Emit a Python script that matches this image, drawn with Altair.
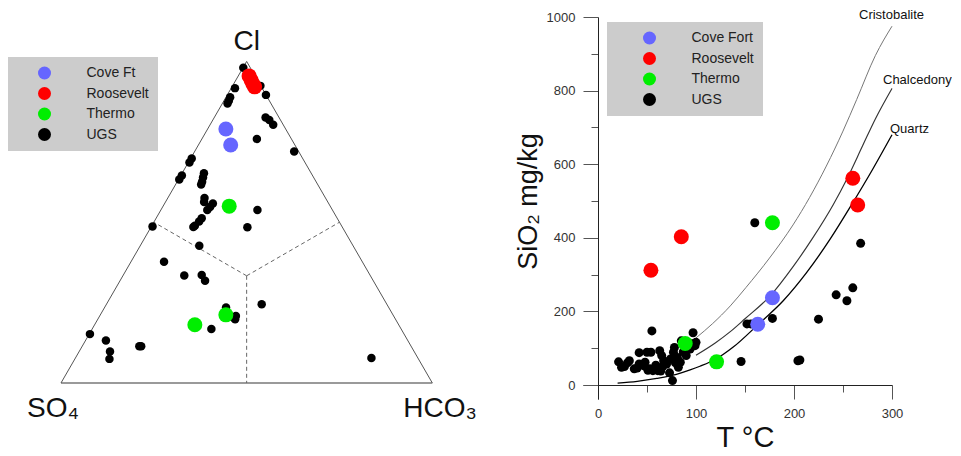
import math
import altair as alt
import pandas as pd

FONT = "Liberation Sans"

# ---------------- left panel: Cl - SO4 - HCO3 ternary (percent) ----------------
ugs_cl = [98.0, 91.7, 88.9, 87.8, 86.9, 92.4, 89.6, 82.6, 81.8, 80.3, 75.9, 72.0,
          69.8, 68.6, 64.5, 63.3, 65.2, 63.9, 62.6, 61.7, 57.5, 56.3, 55.8, 54.7,
          53.8, 51.2, 50.2, 48.9, 48.5, 48.7, 53.8, 48.4, 42.7, 37.7, 33.4, 33.6,
          31.8, 24.5, 23.5, 20.4, 20.8, 19.8, 16.8, 15.2, 13.2, 9.8, 7.5, 11.4, 11.4, 7.8]
ugs_so4 = [1.9, 7.3, 10.0, 10.9, 11.7, 0.1, 0.0, 3.6, 3.0, 2.7, 9.3, 1.2,
           29.9, 31.1, 35.2, 36.5, 28.9, 29.8, 30.7, 31.4, 32.6, 33.3, 31.2, 32.5,
           33.7, 36.5, 37.7, 39.5, 40.1, 51.0, 20.2, 25.6, 41.4, 53.4, 50.1, 45.3,
           45.3, 33.7, 43.8, 43.4, 42.5, 43.2, 51.1, 84.6, 81.3, 81.9, 83.2, 73.2, 72.7, 12.5]
ugs_hco3 = [0.1, 1.0, 1.1, 1.3, 1.4, 7.5, 10.4, 13.8, 15.2, 17.0, 14.8, 26.8,
            0.3, 0.3, 0.3, 0.2, 5.9, 6.3, 6.7, 6.9, 9.9, 10.4, 13.0, 12.8,
            12.5, 12.3, 12.1, 11.6, 11.4, 0.3, 26.0, 26.0, 15.9, 8.9, 16.5, 21.1,
            22.9, 41.8, 32.7, 36.2, 36.7, 37.0, 32.1, 0.2, 5.5, 8.3, 9.3, 15.4, 15.9, 79.7]

cove_cl = [79.0, 74.0]
cove_so4 = [16.1, 17.3]
cove_hco3 = [4.9, 8.7]

roos_cl = [95.5, 94.2, 93.0, 92.1]
roos_so4 = [1.6, 1.7, 1.8, 1.8]
roos_hco3 = [2.9, 4.1, 5.2, 6.1]

thermo_cl = [55.0, 21.2, 18.1]
thermo_so4 = [27.2, 45.0, 54.9]
thermo_hco3 = [17.8, 33.8, 27.0]

tern_labels = ["Cove Ft", "Roosevelt", "Thermo", "UGS"]
vertex_names = ["Cl", "SO₄", "HCO₃"]

# ---------------- right panel: SiO2 vs T ----------------
ugs_T = [21, 24, 27, 30, 32, 37, 40, 42, 42, 47, 48, 50, 51, 53, 54, 55, 56, 59, 61, 63,
         64, 65, 66, 67, 70, 73, 74, 76, 77, 78, 79, 81, 82, 84, 85, 87, 90, 92, 94, 96,
         97, 99, 100, 146, 152, 156, 160, 178, 204, 206, 225, 243, 254, 260, 268]
ugs_S = [63, 48, 50, 60, 66, 44, 46, 88, 57, 52, 62, 89, 40, 44, 89, 147, 39, 54, 39, 93,
         38, 80, 50, 66, 57, 33, 71, 12, 89, 102, 60, 75, 48, 62, 120, 90, 80, 97, 98, 112,
         142, 107, 116, 64, 166, 166, 441, 181, 66, 68, 179, 245, 229, 264, 385]

cove_T = [178, 163]
cove_S = [237, 165]
roos_T = [54, 85, 260, 265]
roos_S = [312, 403, 562, 489]
thermo_T = [178, 89, 121]
thermo_S = [441, 113, 63]

sio2_labels = ["Cove Fort", "Roosevelt", "Thermo", "UGS"]
series_colors = ["#6666ff", "#ff0000", "#00ee00", "#000000"]

curve_names = ["Cristobalite", "Chalcedony", "Quartz"]
cristobalite_T = [100, 117, 135, 151, 175, 199, 216, 233, 250, 264, 283, 300]
cristobalite_S = [128, 167, 215, 265, 345, 435, 510, 595, 690, 776, 895, 975]
chalcedony_T = [100, 120, 135, 150, 176, 200, 218, 240, 254, 270, 283, 300]
chalcedony_S = [81, 115, 145, 180, 243, 325, 395, 490, 560, 650, 723, 806]
quartz_T = [20, 40, 60, 80, 94, 104, 120, 138, 164, 189, 213, 237, 259, 280, 300]
quartz_S = [5, 10, 18, 29, 41, 51, 70, 103, 166, 229, 306, 397, 491, 585, 680]

# ---------------- build tables ----------------
H = math.sqrt(3) / 2


def tern_point(cl, so4, hco3):
    tot = cl + so4 + hco3
    cl, hco3 = cl * 100 / tot, hco3 * 100 / tot
    return hco3 + cl / 2, cl * H


rows = []
for name, a, b, c in [("UGS", ugs_cl, ugs_so4, ugs_hco3),
                      ("Cove Ft", cove_cl, cove_so4, cove_hco3),
                      ("Roosevelt", roos_cl, roos_so4, roos_hco3),
                      ("Thermo", thermo_cl, thermo_so4, thermo_hco3)]:
    for cl, so4, hco3 in zip(a, b, c):
        x, y = tern_point(cl, so4, hco3)
        rows.append({"series": name, "x": x, "y": y})
tern_df = pd.DataFrame(rows)

V_CL = tern_point(100, 0, 0)
V_SO4 = tern_point(0, 100, 0)
V_HCO3 = tern_point(0, 0, 100)
CEN = tern_point(1, 1, 1)

sides_df = pd.DataFrame([
    {"x": V_SO4[0], "y": V_SO4[1], "x2": V_CL[0], "y2": V_CL[1]},
    {"x": V_CL[0], "y": V_CL[1], "x2": V_HCO3[0], "y2": V_HCO3[1]},
])
base_df = pd.DataFrame([{"x": V_SO4[0], "y": V_SO4[1], "x2": V_HCO3[0], "y2": V_HCO3[1]}])
dash_rows = []
for mid in [(50, 50, 0), (50, 0, 50), (0, 50, 50)]:
    m = tern_point(*mid)
    dash_rows.append({"x": CEN[0], "y": CEN[1], "x2": m[0], "y2": m[1]})
dash_df = pd.DataFrame(dash_rows)

pts_rows = []
for name, T, S in [("UGS", ugs_T, ugs_S), ("Cove Fort", cove_T, cove_S),
                   ("Roosevelt", roos_T, roos_S), ("Thermo", thermo_T, thermo_S)]:
    for t, s in zip(T, S):
        pts_rows.append({"series": name, "T": t, "S": s})
pts_df = pd.DataFrame(pts_rows)

curve_rows = []
curve_ends = []
for name, T, S in [("Cristobalite", cristobalite_T, cristobalite_S),
                   ("Chalcedony", chalcedony_T, chalcedony_S),
                   ("Quartz", quartz_T, quartz_S)]:
    for t, s in zip(T, S):
        curve_rows.append({"curve": name, "T": t, "S": s})
    curve_ends.append({"curve": name, "T": T[-1], "S": S[-1]})
curve_df = pd.DataFrame(curve_rows)
ends_df = pd.DataFrame(curve_ends)

# ---------------- left chart ----------------
LX = alt.Scale(domain=[-14.27, 109.61], nice=False, zero=False)
LY = alt.Scale(domain=[-4.31, 98.57], nice=False, zero=False)


def lenc():
    return dict(x=alt.X("x:Q", scale=LX, axis=None), y=alt.Y("y:Q", scale=LY, axis=None))


sides = alt.Chart(sides_df).mark_rule(color="#555555", strokeWidth=1).encode(
    **lenc(), x2="x2:Q", y2="y2:Q")
base = alt.Chart(base_df).mark_rule(color="#9a9a9a", strokeWidth=2).encode(
    **lenc(), x2="x2:Q", y2="y2:Q")
dashes = alt.Chart(dash_df).mark_rule(color="#666666", strokeWidth=1, strokeDash=[4, 3]).encode(
    **lenc(), x2="x2:Q", y2="y2:Q")

left_legend = alt.Legend(orient="none", legendX=0, legendY=40, title=None,
                         fillColor="#cccccc", padding=9, symbolSize=169,
                         symbolType="circle", symbolStrokeWidth=0, symbolOffset=20.5,
                         labelOffset=35, labelFontSize=14, labelFont=FONT,
                         labelColor="#222222", rowPadding=6.5)

tern_pts = alt.Chart(tern_df).mark_circle(opacity=1).encode(
    **lenc(),
    color=alt.Color("series:N", sort=tern_labels,
                    scale=alt.Scale(domain=tern_labels, range=series_colors),
                    legend=left_legend),
    size=alt.condition(alt.datum.series == "UGS", alt.value(72), alt.value(225)),
)

vlabels = []
for name, v, align, dx, dy in [(vertex_names[0], V_CL, "center", 0, -11),
                               (vertex_names[1], V_SO4, "left", -34, 34),
                               (vertex_names[2], V_HCO3, "left", -29, 34)]:
    df = pd.DataFrame([{"label": name, "x": v[0], "y": v[1]}])
    vlabels.append(alt.Chart(df).mark_text(font=FONT, fontSize=28, color="#111111",
                                           align=align, baseline="alphabetic",
                                           dx=dx, dy=dy).encode(**lenc(), text="label:N"))

left = alt.layer(base, sides, dashes, tern_pts, *vlabels).properties(width=460, height=382)

# ---------------- right chart ----------------
RX = alt.Scale(domain=[-15.3, 300], nice=False, zero=False)
RY = alt.Scale(domain=[-38, 1000], nice=False, zero=False)

x_axis = alt.Axis(values=[0, 50, 100, 150, 200, 250, 300], format="d", labelFlush=False,
                  labelExpr="datum.value % 100 == 0 ? datum.label : ''",
                  tickSize={"condition": {"test": "datum.value % 100 == 0", "value": 14}, "value": 7},
                  offset=-14, grid=False, domainColor="#222222", tickColor="#555555",
                  labelColor="#333333", labelFontSize=13, labelFont=FONT, labelPadding=8,
                  title="T °C", titleFont=FONT, titleFontSize=29, titleFontWeight="normal",
                  titleColor="#111111", titleX=162, titleY=52, titleBaseline="middle",
                  titleAlign="center")
y_axis = alt.Axis(values=list(range(0, 1001, 100)), format="d", labelFlush=False,
                  labelExpr="datum.value % 200 == 0 ? datum.label : ''",
                  tickSize={"condition": {"test": "datum.value % 200 == 0", "value": 15}, "value": 7},
                  offset=-15, grid=False, domainColor="#222222", tickColor="#555555",
                  labelColor="#333333", labelFontSize=13, labelFont=FONT, labelPadding=8,
                  title="SiO₂ mg/kg", titleFont=FONT, titleFontSize=27, titleFontWeight="normal",
                  titleColor="#111111", titleX=-70, titleY=184, titleAngle=-90,
                  titleBaseline="middle", titleAlign="center")


def renc():
    return dict(x=alt.X("T:Q", scale=RX, axis=x_axis), y=alt.Y("S:Q", scale=RY, axis=y_axis))


curves = alt.Chart(curve_df).mark_line(interpolate="monotone").encode(
    **renc(),
    stroke=alt.Stroke("curve:N", scale=alt.Scale(domain=curve_names,
                                                 range=["#777777", "#333333", "#000000"]),
                      legend=None),
    strokeWidth=alt.StrokeWidth("curve:N", scale=alt.Scale(domain=curve_names, range=[1, 1.3, 1.6]),
                                legend=None),
    detail="curve:N",
)

curve_texts = []
for name, dx, dy in [("Cristobalite", -33, -11), ("Chalcedony", -9, -8), ("Quartz", -2, -6)]:
    curve_texts.append(
        alt.Chart(ends_df).transform_filter(alt.datum.curve == name)
        .mark_text(font=FONT, fontSize=13, color="#111111", align="left",
                   baseline="middle", dx=dx, dy=dy)
        .encode(**renc(), text="curve:N"))

right_legend = alt.Legend(orient="none", legendX=24, legendY=5, title=None,
                          fillColor="#cccccc", padding=9, symbolSize=169,
                          symbolType="circle", symbolStrokeWidth=0, symbolOffset=26.5,
                          labelOffset=35, labelFontSize=14, labelFont=FONT,
                          labelColor="#222222", rowPadding=6.5)

sio2_pts = alt.Chart(pts_df).mark_circle(opacity=1).encode(
    **renc(),
    color=alt.Color("series:N", sort=sio2_labels,
                    scale=alt.Scale(domain=sio2_labels, range=series_colors),
                    legend=right_legend),
    size=alt.condition(alt.datum.series == "UGS", alt.value(81), alt.value(225)),
)

right = alt.layer(curves, *curve_texts, sio2_pts).properties(width=309, height=382)

chart = (alt.hconcat(left, right, spacing=115, bounds="flush",
                     padding={"left": 0, "top": 1, "right": 0, "bottom": 0})
         .resolve_scale(color="independent")
         .configure_view(strokeWidth=0))

chart.save("out.html", embed_options={"renderer": "svg", "actions": False})
